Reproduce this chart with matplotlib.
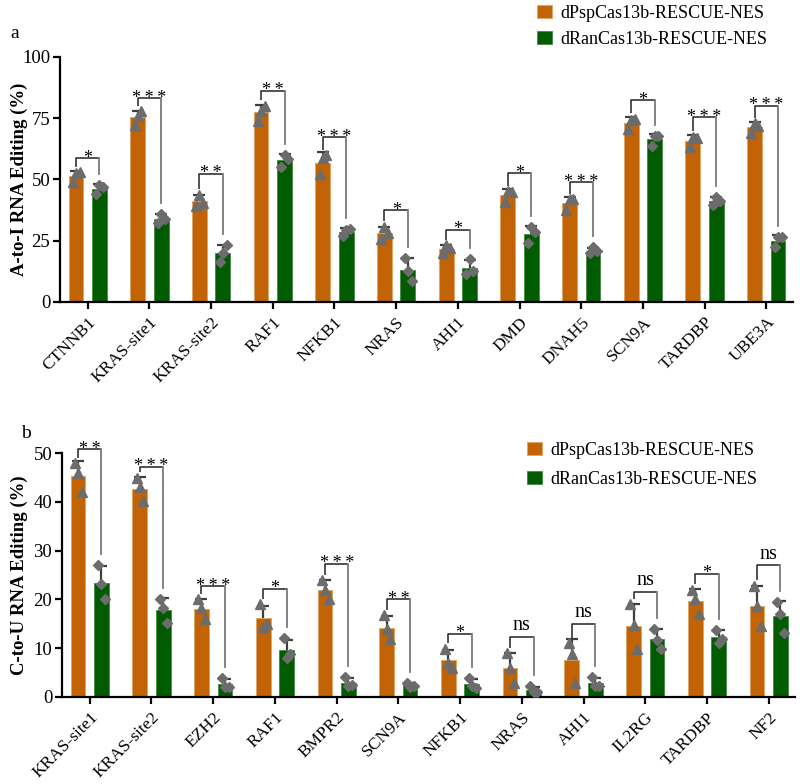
import numpy as np
import matplotlib
matplotlib.use("Agg")
import matplotlib.pyplot as plt
from matplotlib.patches import Patch

plt.rcParams['font.family'] = ['Liberation Serif', 'DejaVu Serif']

# ---------------- data ----------------
genes_a = ['CTNNB1', 'KRAS-site1', 'KRAS-site2', 'RAF1', 'NFKB1', 'NRAS',
           'AHI1', 'DMD', 'DNAH5', 'SCN9A', 'TARDBP', 'UBE3A']
psp_a = [[49.0, 52.5, 52.8], [72.3, 75.8, 77.8], [39.0, 43.8, 40.2],
         [73.8, 78.0, 80.1], [52.0, 58.6, 59.8], [25.6, 30.6, 28.1],
         [19.8, 23.2, 21.8], [40.6, 45.2, 45.0], [37.6, 41.8, 41.8],
         [70.4, 74.4, 74.8], [63.0, 67.4, 67.0], [69.0, 73.0, 71.6]]
ran_a = [[44.0, 47.8, 46.8], [32.2, 36.0, 33.8], [16.2, 20.0, 23.0],
         [55.0, 59.8, 58.3], [27.0, 29.2, 29.6], [18.0, 12.6, 8.7],
         [11.2, 17.6, 12.6], [24.0, 30.5, 28.6], [19.8, 22.2, 20.7],
         [63.8, 67.6, 67.8], [39.4, 42.6, 41.3], [22.2, 26.4, 26.4]]
sig_a = ['*', '***', '**', '**', '***', '*', '*', '*', '***', '*', '***', '***']
bracket_a = [58.6, 83.0, 52.3, 86.2, 67.1, 37.4, 29.5, 52.5, 48.9, 82.4, 75.3, 80.0]

genes_b = ['KRAS-site1', 'KRAS-site2', 'EZH2', 'RAF1', 'BMPR2', 'SCN9A',
           'NFKB1', 'NRAS', 'AHI1', 'IL2RG', 'TARDBP', 'NF2']
psp_b = [[48.0, 46.0, 42.0], [45.0, 43.0, 40.1], [20.1, 18.2, 16.0],
         [19.0, 14.3, 15.0], [24.0, 22.0, 20.0], [16.8, 14.0, 11.8],
         [9.9, 7.0, 6.0], [9.0, 5.9, 2.8], [11.0, 8.9, 2.9],
         [19.0, 14.7, 9.8], [22.0, 20.0, 17.0], [22.8, 18.6, 14.5]]
ran_b = [[27.0, 23.1, 20.1], [20.1, 18.2, 15.1], [3.9, 2.0, 2.0],
         [12.0, 8.0, 8.9], [4.1, 2.2, 2.5], [2.9, 2.0, 2.3],
         [3.8, 2.2, 1.9], [2.2, 1.0, 1.0], [4.0, 2.2, 2.3],
         [14.0, 11.6, 9.8], [13.8, 11.0, 11.9], [19.4, 17.0, 13.2]]
sig_b = ['**', '***', '***', '*', '***', '**', '*', 'ns', 'ns', 'ns', '*', 'ns']
bracket_b = [50.8, 47.2, 22.7, 22.2, 27.3, 20.0, 13.0, 12.4, 15.0, 21.6, 25.3, 27.0]

series = ['dPspCas13b-RESCUE-NES', 'dRanCas13b-RESCUE-NES']
ORANGE = '#C26306'
GREEN = '#015B01'
PT = '#6c6c6c'
EB = '#3e3e3e'

fig = plt.figure(figsize=(8.0, 7.84), dpi=100)
ax_a = fig.add_axes([0.075, 0.615, 0.916, 0.3125])
ax_b = fig.add_axes([0.0775, 0.111, 0.9165, 0.311])

BW = 0.24
OFF = 0.19
JIT = [-0.05, 0.0, 0.06]


def panel(ax, genes, psp, ran, sig, brk, ymax, yticks, ylabel, label_x):
    x = np.arange(len(genes))
    psp = np.array(psp)
    ran = np.array(ran)
    for arr, sign, col, edge, mk, ms in [(psp, -1, ORANGE, '#DDA56A', '^', 7),
                                         (ran, 1, GREEN, '#4E8E4E', 'D', 5.2)]:
        m = arr.mean(axis=1)
        sd = arr.std(axis=1, ddof=1)
        xs = x + sign * OFF
        ax.bar(xs, m, width=BW, color=col, edgecolor=edge, linewidth=0.7, zorder=2)
        ax.vlines(xs, m, m + sd, color=EB, lw=1.6, zorder=3)
        ax.plot(xs, m + sd, ls='none', marker='_', ms=8, mew=1.6, color=EB, zorder=3)
        for j in range(3):
            ax.plot(xs + JIT[j], arr[:, j], ls='none', marker=mk, ms=ms,
                    color=PT, mec=PT, zorder=4)
    # significance brackets
    for i in range(len(genes)):
        xl = x[i] - OFF
        xr = x[i] + OFF
        yt = brk[i]
        yl = psp[i].max() + 0.022 * ymax
        yr = ran[i].max() + 0.045 * ymax
        ax.plot([xl, xl, xr], [yl, yt, yt], color='#222222', lw=1.1,
                zorder=5, clip_on=False, solid_capstyle='butt')
        ax.plot([xr, xr], [yt, yr], color='#7a7a7a', lw=1.3, zorder=5,
                clip_on=False)
        if sig[i] == 'ns':
            ax.text(x[i], yt + 0.006 * ymax, 'ns', ha='center', va='bottom',
                    fontsize=14.5, clip_on=False)
        else:
            ax.text(x[i], yt - 0.035 * ymax, sig[i].replace('*', '*\u2009').strip(),
                    ha='center', va='bottom', fontsize=13, clip_on=False)
    ax.set_xlim(-0.45, len(genes) - 1 + 0.43)
    ax.set_ylim(0, ymax)
    ax.set_yticks(yticks)
    ax.set_yticklabels([str(t) for t in yticks], fontsize=13.5)
    ax.set_xticks(x)
    ax.set_xticklabels(genes, rotation=45, ha='right', rotation_mode='anchor',
                       fontsize=12.5)
    for s in ['top', 'right']:
        ax.spines[s].set_visible(False)
    for s in ['left', 'bottom']:
        ax.spines[s].set_linewidth(1.6)
    ax.tick_params(axis='both', direction='out', length=5, width=1.6, pad=2)
    ax.tick_params(axis='x', pad=4)
    ax.set_ylabel(ylabel, fontsize=13.5, fontweight='bold')
    ax.yaxis.label.set_va('center')
    ax.yaxis.set_label_coords(label_x, 0.5)


panel(ax_a, genes_a, psp_a, ran_a, sig_a, bracket_a, 100, [0, 25, 50, 75, 100],
      'A-to-I RNA Editing (%)', -0.056)
panel(ax_b, genes_b, psp_b, ran_b, sig_b, bracket_b, 50, [0, 10, 20, 30, 40, 50],
      'C-to-U RNA Editing (%)', -0.058)

handles = [Patch(facecolor=ORANGE, edgecolor='#DDA56A', lw=0.7),
           Patch(facecolor=GREEN, edgecolor='#4E8E4E', lw=0.7)]
for anchor, lsp in [((537 / 800, 1 - 5 / 784), 0.5), ((527 / 800, 1 - 442 / 784), 0.65)]:
    fig.legend(handles, series, loc='upper left', bbox_to_anchor=anchor,
               bbox_transform=fig.transFigure, frameon=False, fontsize=13,
               handlelength=0.85, handleheight=0.7, handletextpad=0.45,
               labelspacing=lsp, borderpad=0, borderaxespad=0)

fig.text(10 / 800, 1 - 33 / 784, 'a', fontsize=14, va='center', ha='left')
fig.text(21 / 800, 1 - 433 / 784, 'b', fontsize=14, va='center', ha='left')

fig.savefig('out.png', dpi=100)
